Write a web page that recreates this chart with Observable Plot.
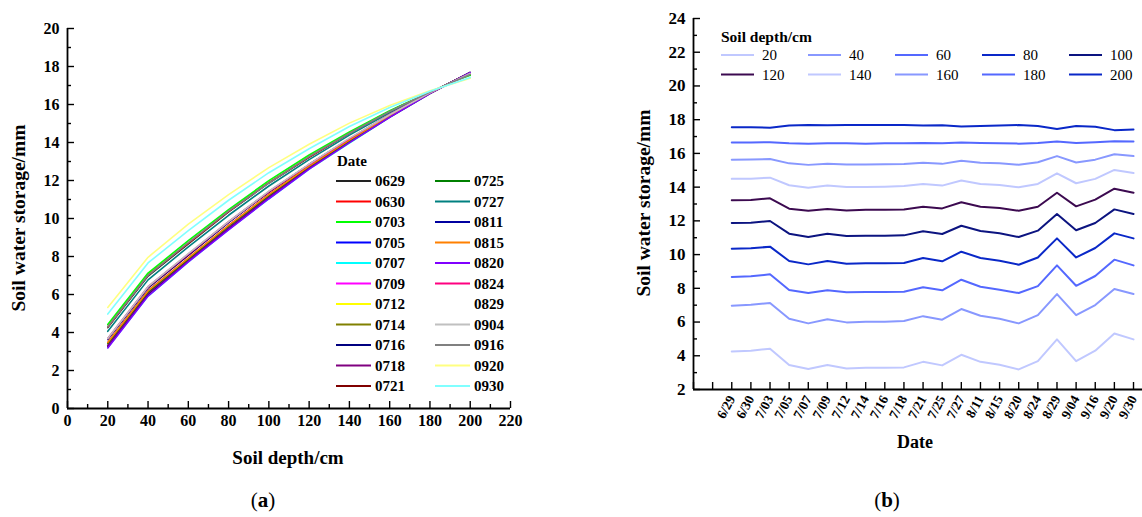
<!DOCTYPE html>
<html><head><meta charset="utf-8">
<script src="https://cdn.jsdelivr.net/npm/d3@7"></script>
<script src="https://cdn.jsdelivr.net/npm/@observablehq/plot@0.6"></script>
<style>
body{margin:0;background:#fff;}
#wrap{position:relative;width:1142px;height:517px;overflow:hidden;font-family:"Liberation Serif",serif;background:#fff;}
#wrap > svg{position:absolute;}
</style></head><body><div id="wrap"></div>
<script>
// ---- data ----
const dates = ["0629","0630","0703","0705","0707","0709","0712","0714","0716","0718","0721","0725","0727","0811","0815","0820","0824","0829","0904","0916","0920","0930"];
const dateLabels = ["6/29","6/30","7/03","7/05","7/07","7/09","7/12","7/14","7/16","7/18","7/21","7/25","7/27","8/11","8/15","8/20","8/24","8/29","9/04","9/16","9/20","9/30"];
const depths = [20,40,60,80,100,120,140,160,180,200];
// soil water storage (mm) per depth layer, one value per date
const sws20  = [4.26,4.30,4.42,3.45,3.21,3.45,3.25,3.29,3.29,3.31,3.64,3.43,4.06,3.64,3.47,3.19,3.68,4.97,3.68,4.30,5.32,4.97];
const sws40  = [6.97,7.03,7.13,6.20,5.92,6.16,5.98,6.02,6.02,6.06,6.35,6.14,6.77,6.37,6.19,5.92,6.41,7.66,6.41,7.01,7.96,7.66];
const sws60  = [8.67,8.71,8.83,7.90,7.72,7.88,7.76,7.78,7.78,7.80,8.06,7.88,8.51,8.09,7.92,7.72,8.13,9.36,8.15,8.73,9.70,9.36];
const sws80  = [10.35,10.37,10.47,9.62,9.42,9.62,9.46,9.48,9.48,9.50,9.80,9.60,10.17,9.80,9.64,9.40,9.83,10.96,9.83,10.39,11.26,10.96];
const sws100 = [11.87,11.89,11.99,11.24,11.04,11.24,11.10,11.12,11.12,11.14,11.38,11.22,11.71,11.40,11.26,11.04,11.42,12.41,11.44,11.87,12.68,12.41];
const sws120 = [13.22,13.24,13.34,12.72,12.60,12.70,12.62,12.66,12.66,12.68,12.84,12.74,13.10,12.84,12.76,12.60,12.84,13.67,12.86,13.26,13.91,13.67];
const sws140 = [14.49,14.50,14.56,14.11,13.97,14.09,14.01,14.01,14.03,14.07,14.19,14.09,14.39,14.19,14.13,13.99,14.19,14.82,14.23,14.49,15.02,14.84];
const sws160 = [15.63,15.64,15.67,15.41,15.32,15.38,15.34,15.34,15.35,15.37,15.45,15.38,15.56,15.45,15.41,15.33,15.48,15.84,15.46,15.63,15.95,15.84];
const sws180 = [16.65,16.65,16.66,16.60,16.58,16.60,16.60,16.58,16.60,16.60,16.62,16.60,16.64,16.62,16.60,16.58,16.62,16.70,16.62,16.66,16.72,16.70];
const sws200 = [17.55,17.55,17.52,17.65,17.68,17.67,17.68,17.68,17.68,17.68,17.65,17.67,17.60,17.63,17.66,17.68,17.62,17.45,17.63,17.58,17.38,17.42];
const series = [sws20,sws40,sws60,sws80,sws100,sws120,sws140,sws160,sws180,sws200];

const dateColors = ["#222222","#ff0000","#00ff00","#0000ff","#00ffff","#ff00ff","#ffff00","#808000","#000080","#800080","#800000","#008000","#008080","#0000a0","#ff8000","#8000ff","#ff0080","#ffffff","#c0c0c0","#808080","#ffff80","#80ffff"];
const depthColors = ["#c0c8ff","#8898ff","#5468ff","#0a28c8","#0c1480","#3c0a50","#c0c8ff","#8898ff","#5468ff","#0a28c8"];

// ---- tables ----
const rowsA = [];
dates.forEach((d, i) => depths.forEach((z, j) => rowsA.push({date: d, depth: z, value: series[j][i]})));
const rowsB = [];
depths.forEach((z, j) => dateLabels.forEach((d, i) => rowsB.push({depth: String(z), idx: i, value: series[j][i]})));

const wrap = document.getElementById("wrap");
const font = "Liberation Serif";

// inward ticks (frame-relative insets)
const ticksX = (vals, fh, len) => Plot.tickX(vals, {x: d => d, insetTop: fh - len, stroke: "#000", strokeWidth: 1.4});
const ticksY = (vals, fw, len) => Plot.tickY(vals, {y: d => d, insetRight: fw - len, stroke: "#000", strokeWidth: 1.4});

// ---- panel (a) ----
const A = {w: 560, h: 480, ml: 67, mr: 50, mt: 28, mb: 72};
const fwA = A.w - A.ml - A.mr, fhA = A.h - A.mt - A.mb;
const pa = Plot.plot({
  width: A.w, height: A.h,
  marginLeft: A.ml, marginRight: A.mr, marginTop: A.mt, marginBottom: A.mb,
  style: {fontFamily: font, fontSize: "16px", fontWeight: "bold", color: "#000", background: "transparent", overflow: "visible"},
  x: {domain: [0, 220], axis: null},
  y: {domain: [0, 20], axis: null},
  color: {domain: dates, range: dateColors},
  marks: [
    Plot.line(rowsA, {x: "depth", y: "value", z: "date", stroke: "date", strokeWidth: 1.6}),
    ticksY(d3.range(1, 20, 2), fwA, 4),
    ticksY(d3.range(0, 21, 2), fwA, 7),
    ticksX(d3.range(10, 221, 20), fhA, 4),
    ticksX(d3.range(0, 221, 20), fhA, 7),
    Plot.text(d3.range(0, 21, 2), {y: d => d, text: d => String(d), frameAnchor: "left", dx: -8, textAnchor: "end", fontSize: 16, fontWeight: "bold", fill: "#000"}),
    Plot.text(d3.range(0, 221, 20), {x: d => d, text: d => String(d), frameAnchor: "bottom", dy: 17, fontSize: 16, fontWeight: "bold", fill: "#000"}),
    Plot.ruleX([0], {strokeWidth: 1.8}),
    Plot.ruleY([0], {strokeWidth: 1.8})
  ]
});
pa.style.left = "0px"; pa.style.top = "0px";
wrap.appendChild(pa);

// ---- panel (b) ----
const B = {w: 562, h: 480, ml: 113, mr: 0, mt: 18, mb: 91};
const fwB = B.w - B.ml - B.mr, fhB = B.h - B.mt - B.mb;
const pb = Plot.plot({
  width: B.w, height: B.h,
  marginLeft: B.ml, marginRight: B.mr, marginTop: B.mt, marginBottom: B.mb,
  style: {fontFamily: font, fontSize: "17px", fontWeight: "bold", color: "#000", background: "transparent", overflow: "visible"},
  x: {type: "linear", domain: [-2, 21.47]},
  y: {domain: [2, 24], axis: null},
  color: {type: "ordinal", domain: depths.map(String), range: depthColors},
  marks: [
    Plot.line(rowsB, {x: "idx", y: "value", z: "depth", stroke: "depth", strokeWidth: 2}),
    ticksY(d3.range(3, 24, 2), fwB, 4),
    ticksY(d3.range(2, 25, 2), fwB, 7),
    ticksX(d3.range(-2, 22), fhB, 7),
    Plot.text(d3.range(2, 25, 2), {y: d => d, text: d => String(d), frameAnchor: "left", dx: -8, textAnchor: "end", fontSize: 17, fontWeight: "bold", fill: "#000"}),
    Plot.axisX(d3.range(0, 22), {tickSize: 0, tickPadding: 7, tickRotate: -62, label: null, fontSize: 13.5, fontWeight: "bold", fill: "#000", tickFormat: i => dateLabels[i]}),
    Plot.ruleX([-2], {strokeWidth: 1.8}),
    Plot.ruleY([2], {strokeWidth: 1.8})
  ]
});
pb.style.left = "580px"; pb.style.top = "0px";
wrap.appendChild(pb);

// ---- overlay: titles, legends, captions ----
const ov = d3.create("svg").attr("width", 1142).attr("height", 517)
  .style("left", "0px").style("top", "0px").style("pointer-events", "none")
  .attr("font-family", font);
const txt = (x, y, s, o = {}) => ov.append("text").attr("x", x).attr("y", y).text(s)
  .attr("font-size", o.size || 16).attr("font-weight", o.weight || "bold")
  .attr("text-anchor", o.anchor || "start").attr("dominant-baseline", "central")
  .attr("transform", o.rotate ? `rotate(${o.rotate},${x},${y})` : null);

// axis titles
txt(288, 457, "Soil depth/cm", {size: 19, anchor: "middle"});
txt(18, 218, "Soil water storage/mm", {size: 19.5, anchor: "middle", rotate: -90});
txt(915, 442, "Date", {size: 18, anchor: "middle"});
txt(643, 203, "Soil water storage/mm", {size: 19.5, anchor: "middle", rotate: -90});

// legend (a)
txt(337, 161, "Date", {size: 15});
dates.forEach((d, i) => {
  const col = i < 11 ? 0 : 1, row = i % 11;
  const x0 = col ? 435 : 336, y = 181 + row * 20.5;
  ov.append("line").attr("x1", x0).attr("x2", x0 + 35).attr("y1", y).attr("y2", y)
    .attr("stroke", dateColors[i]).attr("stroke-width", 2);
  txt(x0 + 39, y, d, {size: 15});
});

// legend (b)
txt(721, 36, "Soil depth/cm", {size: 15.5});
depths.forEach((z, j) => {
  const col = j % 5, row = Math.floor(j / 5);
  const x0 = 721 + col * 87, y = 55 + row * 19.5;
  ov.append("line").attr("x1", x0).attr("x2", x0 + 33).attr("y1", y).attr("y2", y)
    .attr("stroke", depthColors[j]).attr("stroke-width", 2);
  txt(x0 + 41, y, String(z), {size: 15, weight: "normal"});
});

// captions
const cap = (x, s) => {
  const t = ov.append("text").attr("x", x).attr("y", 507).attr("text-anchor", "middle")
    .attr("font-size", 21).attr("font-family", font);
  t.append("tspan").text("(");
  t.append("tspan").attr("font-weight", "bold").text(s);
  t.append("tspan").text(")");
};
cap(263, "a");
cap(887, "b");

wrap.appendChild(ov.node());
</script></body></html>
